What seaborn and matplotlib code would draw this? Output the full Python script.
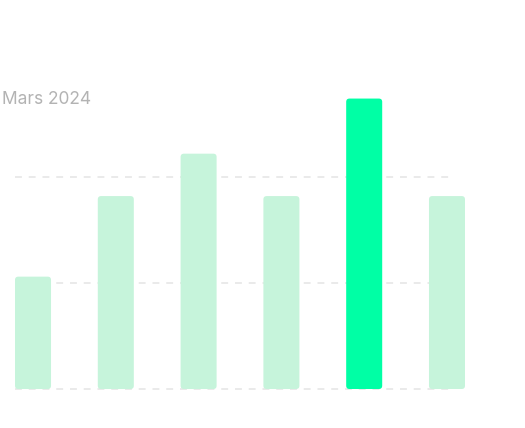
import matplotlib
matplotlib.use("Agg")
import matplotlib.pyplot as plt
import seaborn as sns
import pandas as pd
from matplotlib.patches import FancyBboxPatch

# data
categories = ["S1", "S2", "S3", "S4", "S5", "S6"]
values = [53, 91, 111, 91, 137, 91]
highlight = "S5"
grid_values = [0, 50, 100]

light_green = "#c6f4db"
bright_green = "#00ffa5"

df = pd.DataFrame({"cat": categories, "val": values})
palette = {c: (bright_green if c == highlight else light_green) for c in categories}

sns.set_style("white")
plt.rcParams["font.family"] = ["Inter", "DejaVu Sans"]

fig = plt.figure(figsize=(5.25, 4.28), dpi=100)
ax = fig.add_axes([15 / 525, 39 / 428, 450 / 525, 318 / 428])

bar_w = 0.435
sns.barplot(data=df, x="cat", y="val", hue="cat", palette=palette,
            width=bar_w, legend=False, ax=ax, saturation=1, zorder=3)

ax.set_xlim(-bar_w / 2, len(categories) - 1 + bar_w / 2)
ax.set_ylim(0, 150)

# swap rectangles for rounded bars
for p in list(ax.patches):
    x, y = p.get_x(), p.get_y()
    w, h = p.get_width(), p.get_height()
    fc = p.get_facecolor()
    p.remove()
    rb = FancyBboxPatch((x, y), w, h,
                        boxstyle="round,pad=0,rounding_size=0.04",
                        mutation_aspect=39, facecolor=fc, edgecolor="none",
                        zorder=3)
    ax.add_patch(rb)

for gv in grid_values:
    ax.axhline(gv, xmin=0, xmax=440 / 450, color="#e4e4e4", lw=1.1,
               ls=(0, (4.5, 4.5)), zorder=1, clip_on=False)

ax.set_xticks([])
ax.set_yticks([])
ax.set_xlabel("")
ax.set_ylabel("")
sns.despine(ax=ax, left=True, bottom=True)

fig.text(2 / 525, 1 - 100 / 428, "Mars 2024", color="#b3b3b3", fontsize=12.5,
         va="center", ha="left")

fig.savefig("out.png", dpi=100, facecolor="white")
